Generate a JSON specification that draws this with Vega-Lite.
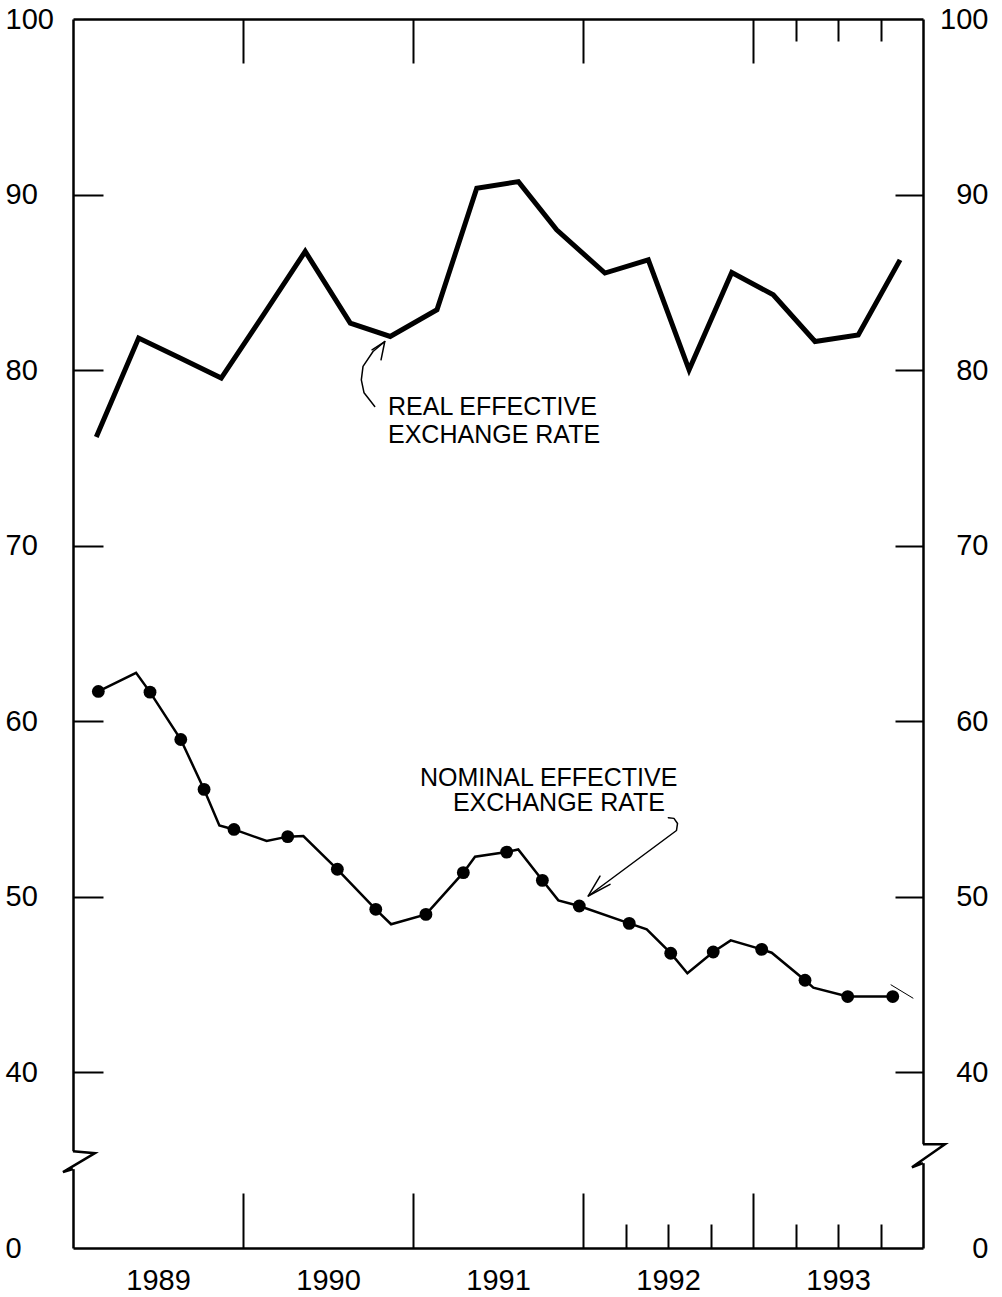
{
  "$schema": "https://vega.github.io/schema/vega-lite/v6.json",
  "width": 850,
  "height": 1229,
  "autosize": {"type": "none"},
  "padding": {"left": 73, "top": 19, "right": 79, "bottom": 49},
  "background": "white",
  "datasets": {
    "real": [
      {"year": 1989.137, "value": 76.19},
      {"year": 1989.386, "value": 81.83},
      {"year": 1989.624, "value": 80.72},
      {"year": 1989.872, "value": 79.55},
      {"year": 1990.124, "value": 83.21},
      {"year": 1990.366, "value": 86.76},
      {"year": 1990.631, "value": 82.68},
      {"year": 1990.866, "value": 81.92},
      {"year": 1991.141, "value": 83.44},
      {"year": 1991.375, "value": 90.36},
      {"year": 1991.620, "value": 90.74},
      {"year": 1991.845, "value": 87.99},
      {"year": 1992.129, "value": 85.53},
      {"year": 1992.384, "value": 86.28},
      {"year": 1992.624, "value": 80.02},
      {"year": 1992.875, "value": 85.56},
      {"year": 1993.119, "value": 84.29},
      {"year": 1993.365, "value": 81.63},
      {"year": 1993.619, "value": 82.01},
      {"year": 1993.865, "value": 86.28}
    ],
    "nominal": [
      {"year": 1989.149, "value": 61.70, "dot": true},
      {"year": 1989.371, "value": 62.76, "dot": false},
      {"year": 1989.453, "value": 61.66, "dot": true},
      {"year": 1989.634, "value": 58.96, "dot": true},
      {"year": 1989.771, "value": 56.12, "dot": true},
      {"year": 1989.861, "value": 54.07, "dot": false},
      {"year": 1989.947, "value": 53.84, "dot": true},
      {"year": 1990.139, "value": 53.18, "dot": false},
      {"year": 1990.263, "value": 53.43, "dot": true},
      {"year": 1990.355, "value": 53.46, "dot": false},
      {"year": 1990.555, "value": 51.57, "dot": true},
      {"year": 1990.781, "value": 49.29, "dot": true},
      {"year": 1990.871, "value": 48.44, "dot": false},
      {"year": 1991.076, "value": 49.00, "dot": true},
      {"year": 1991.296, "value": 51.38, "dot": true},
      {"year": 1991.365, "value": 52.29, "dot": false},
      {"year": 1991.551, "value": 52.55, "dot": true},
      {"year": 1991.619, "value": 52.70, "dot": false},
      {"year": 1991.761, "value": 50.94, "dot": true},
      {"year": 1991.855, "value": 49.80, "dot": false},
      {"year": 1991.978, "value": 49.48, "dot": true},
      {"year": 1992.272, "value": 48.49, "dot": true},
      {"year": 1992.375, "value": 48.15, "dot": false},
      {"year": 1992.516, "value": 46.79, "dot": true},
      {"year": 1992.614, "value": 45.65, "dot": false},
      {"year": 1992.766, "value": 46.86, "dot": true},
      {"year": 1992.869, "value": 47.52, "dot": false},
      {"year": 1993.051, "value": 47.01, "dot": true},
      {"year": 1993.110, "value": 46.82, "dot": false},
      {"year": 1993.306, "value": 45.25, "dot": true},
      {"year": 1993.355, "value": 44.83, "dot": false},
      {"year": 1993.557, "value": 44.32, "dot": true},
      {"year": 1993.822, "value": 44.32, "dot": true}
    ],
    "labels": [
      {"text": "REAL EFFECTIVE", "year": 1990.853, "value": 77.46},
      {"text": "EXCHANGE RATE", "year": 1990.853, "value": 75.87},
      {"text": "NOMINAL  EFFECTIVE", "year": 1991.041, "value": 56.33},
      {"text": "EXCHANGE RATE", "year": 1991.235, "value": 54.90}
    ],
    "strokes": [
      {"id": "a1", "o": 1, "year": 1990.775, "value": 77.93},
      {"id": "a1", "o": 2, "year": 1990.712, "value": 78.71},
      {"id": "a1", "o": 3, "year": 1990.696, "value": 79.45},
      {"id": "a1", "o": 4, "year": 1990.706, "value": 80.21},
      {"id": "a1", "o": 5, "year": 1990.765, "value": 81.06},
      {"id": "a1", "o": 6, "year": 1990.834, "value": 81.63},
      {"id": "a1h", "o": 1, "year": 1990.759, "value": 81.16},
      {"id": "a1h", "o": 2, "year": 1990.834, "value": 81.63},
      {"id": "a1h", "o": 3, "year": 1990.812, "value": 80.59},
      {"id": "a2", "o": 1, "year": 1992.502, "value": 54.51},
      {"id": "a2", "o": 2, "year": 1992.535, "value": 54.47},
      {"id": "a2", "o": 3, "year": 1992.556, "value": 54.18},
      {"id": "a2", "o": 4, "year": 1992.550, "value": 53.78},
      {"id": "a2", "o": 5, "year": 1992.031, "value": 50.05},
      {"id": "a2h", "o": 1, "year": 1992.100, "value": 51.18},
      {"id": "a2h", "o": 2, "year": 1992.031, "value": 50.05},
      {"id": "a2h", "o": 3, "year": 1992.159, "value": 50.71},
      {"id": "h", "o": 1, "year": 1993.810, "value": 45.00},
      {"id": "h", "o": 2, "year": 1993.943, "value": 44.22},
      {"id": "z1", "o": 1, "year": 1989.000, "value": 35.51},
      {"id": "z1", "o": 2, "year": 1989.129, "value": 35.40},
      {"id": "z1", "o": 3, "year": 1988.941, "value": 34.32},
      {"id": "z1", "o": 4, "year": 1989.000, "value": 34.49},
      {"id": "z2", "o": 1, "year": 1994.000, "value": 35.91},
      {"id": "z2", "o": 2, "year": 1994.129, "value": 35.91},
      {"id": "z2", "o": 3, "year": 1993.935, "value": 34.60},
      {"id": "z2", "o": 4, "year": 1994.000, "value": 34.83}
    ],
    "breaks": [
      {"year": 1989, "lo": 34.49, "hi": 35.51},
      {"year": 1994, "lo": 34.83, "hi": 35.91}
    ]
  },
  "layer": [
    {
      "data": {"name": "real"},
      "mark": {"type": "line", "stroke": "black", "strokeWidth": 5, "strokeJoin": "miter", "strokeCap": "butt"},
      "encoding": {
        "x": {"field": "year", "type": "quantitative", "scale": {"domain": [1989, 1994], "nice": false, "zero": false},
          "axis": {"orient": "bottom", "values": [1989.5, 1990.5, 1991.5, 1992.5, 1993.5], "labelExpr": "'' + floor(datum.value)", "ticks": false, "domain": true, "labelPadding": 18, "labelFlush": false, "labelOverlap": false, "labelBound": false, "title": null, "grid": false}},
        "y": {"field": "value", "type": "quantitative", "scale": {"domain": [30, 100], "nice": false, "zero": false},
          "axis": {"orient": "left", "values": [30, 40, 50, 60, 70, 80, 90, 100], "labelExpr": "datum.value == 30 ? '0' : datum.label", "ticks": false, "domain": true, "labelAlign": "left", "labelBaseline": "middle", "labelPadding": 68, "labelOverlap": false, "labelFlush": false, "labelBound": false, "title": null, "grid": false}}
      }
    },
    {
      "data": {"name": "nominal"},
      "mark": {"type": "line", "stroke": "black", "strokeWidth": 2.5, "strokeJoin": "miter"},
      "encoding": {
        "x": {"field": "year", "type": "quantitative", "scale": {"domain": [1989, 1994], "nice": false, "zero": false},
          "axis": {"orient": "bottom", "values": [1990, 1991, 1992, 1993], "labels": false, "domain": false, "ticks": true, "tickSize": -55, "title": null, "grid": false}},
        "y": {"field": "value", "type": "quantitative", "scale": {"domain": [30, 100], "nice": false, "zero": false},
          "axis": {"orient": "right", "values": [30, 40, 50, 60, 70, 80, 90, 100], "labelExpr": "datum.value == 30 ? '0' : datum.label", "ticks": false, "domain": true, "labelAlign": "right", "labelBaseline": "middle", "labelPadding": 65, "labelOverlap": false, "labelFlush": false, "labelBound": false, "title": null, "grid": false}}
      }
    },
    {
      "data": {"name": "nominal"},
      "transform": [{"filter": "datum.dot"}],
      "mark": {"type": "point", "shape": "circle", "filled": true, "size": 165, "color": "black", "opacity": 1},
      "encoding": {
        "x": {"field": "year", "type": "quantitative", "scale": {"domain": [1989, 1994], "nice": false, "zero": false},
          "axis": {"orient": "bottom", "values": [1992.25, 1992.5, 1992.75, 1993.25, 1993.5, 1993.75], "labels": false, "domain": false, "ticks": true, "tickSize": -24, "title": null, "grid": false}},
        "y": {"field": "value", "type": "quantitative", "scale": {"domain": [30, 100], "nice": false, "zero": false},
          "axis": {"orient": "left", "values": [40, 50, 60, 70, 80, 90], "labels": false, "domain": false, "ticks": true, "tickSize": -30, "title": null, "grid": false}}
      }
    },
    {
      "data": {"name": "labels"},
      "mark": {"type": "text", "align": "left", "baseline": "alphabetic", "font": "Liberation Sans", "fontSize": 25, "color": "black"},
      "encoding": {
        "x": {"field": "year", "type": "quantitative", "scale": {"domain": [1989, 1994], "nice": false, "zero": false},
          "axis": {"orient": "top", "values": [1990, 1991, 1992, 1993], "labels": false, "domain": true, "ticks": true, "tickSize": -44, "title": null, "grid": false}},
        "y": {"field": "value", "type": "quantitative", "scale": {"domain": [30, 100], "nice": false, "zero": false},
          "axis": {"orient": "right", "values": [40, 50, 60, 70, 80, 90], "labels": false, "domain": false, "ticks": true, "tickSize": -28, "title": null, "grid": false}},
        "text": {"field": "text", "type": "nominal"}
      }
    },
    {
      "data": {"name": "strokes"},
      "transform": [{"filter": "indexof(['a1','a1h','a2','a2h'], datum.id) >= 0"}],
      "mark": {"type": "line", "stroke": "black", "strokeWidth": 1.5, "strokeJoin": "round", "strokeCap": "round"},
      "encoding": {
        "x": {"field": "year", "type": "quantitative", "scale": {"domain": [1989, 1994], "nice": false, "zero": false},
          "axis": {"orient": "top", "values": [1993.25, 1993.5, 1993.75], "labels": false, "domain": false, "ticks": true, "tickSize": -22, "title": null, "grid": false}},
        "y": {"field": "value", "type": "quantitative", "scale": {"domain": [30, 100], "nice": false, "zero": false}, "axis": null},
        "detail": {"field": "id", "type": "nominal"},
        "order": {"field": "o", "type": "quantitative"}
      }
    },
    {
      "data": {"name": "strokes"},
      "transform": [{"filter": "datum.id == 'h'"}],
      "mark": {"type": "line", "stroke": "black", "strokeWidth": 1},
      "encoding": {
        "x": {"field": "year", "type": "quantitative", "scale": {"domain": [1989, 1994], "nice": false, "zero": false}, "axis": null},
        "y": {"field": "value", "type": "quantitative", "scale": {"domain": [30, 100], "nice": false, "zero": false}, "axis": null},
        "order": {"field": "o", "type": "quantitative"}
      }
    },
    {
      "data": {"name": "breaks"},
      "mark": {"type": "rule", "stroke": "white", "strokeWidth": 7},
      "encoding": {
        "x": {"field": "year", "type": "quantitative", "scale": {"domain": [1989, 1994], "nice": false, "zero": false}, "axis": null},
        "y": {"field": "lo", "type": "quantitative", "scale": {"domain": [30, 100], "nice": false, "zero": false}, "axis": null},
        "y2": {"field": "hi"}
      }
    },
    {
      "data": {"name": "strokes"},
      "transform": [{"filter": "datum.id == 'z1' || datum.id == 'z2'"}],
      "mark": {"type": "line", "stroke": "black", "strokeWidth": 2.5, "strokeJoin": "miter"},
      "encoding": {
        "x": {"field": "year", "type": "quantitative", "scale": {"domain": [1989, 1994], "nice": false, "zero": false}, "axis": null},
        "y": {"field": "value", "type": "quantitative", "scale": {"domain": [30, 100], "nice": false, "zero": false}, "axis": null},
        "detail": {"field": "id", "type": "nominal"},
        "order": {"field": "o", "type": "quantitative"}
      }
    }
  ],
  "resolve": {"axis": {"x": "independent", "y": "independent"}},
  "config": {
    "view": {"stroke": null},
    "axis": {
      "domainColor": "black",
      "domainWidth": 2.5,
      "tickColor": "black",
      "tickWidth": 2,
      "labelColor": "black",
      "labelFont": "Liberation Sans",
      "labelFontSize": 29,
      "grid": false
    }
  }
}
